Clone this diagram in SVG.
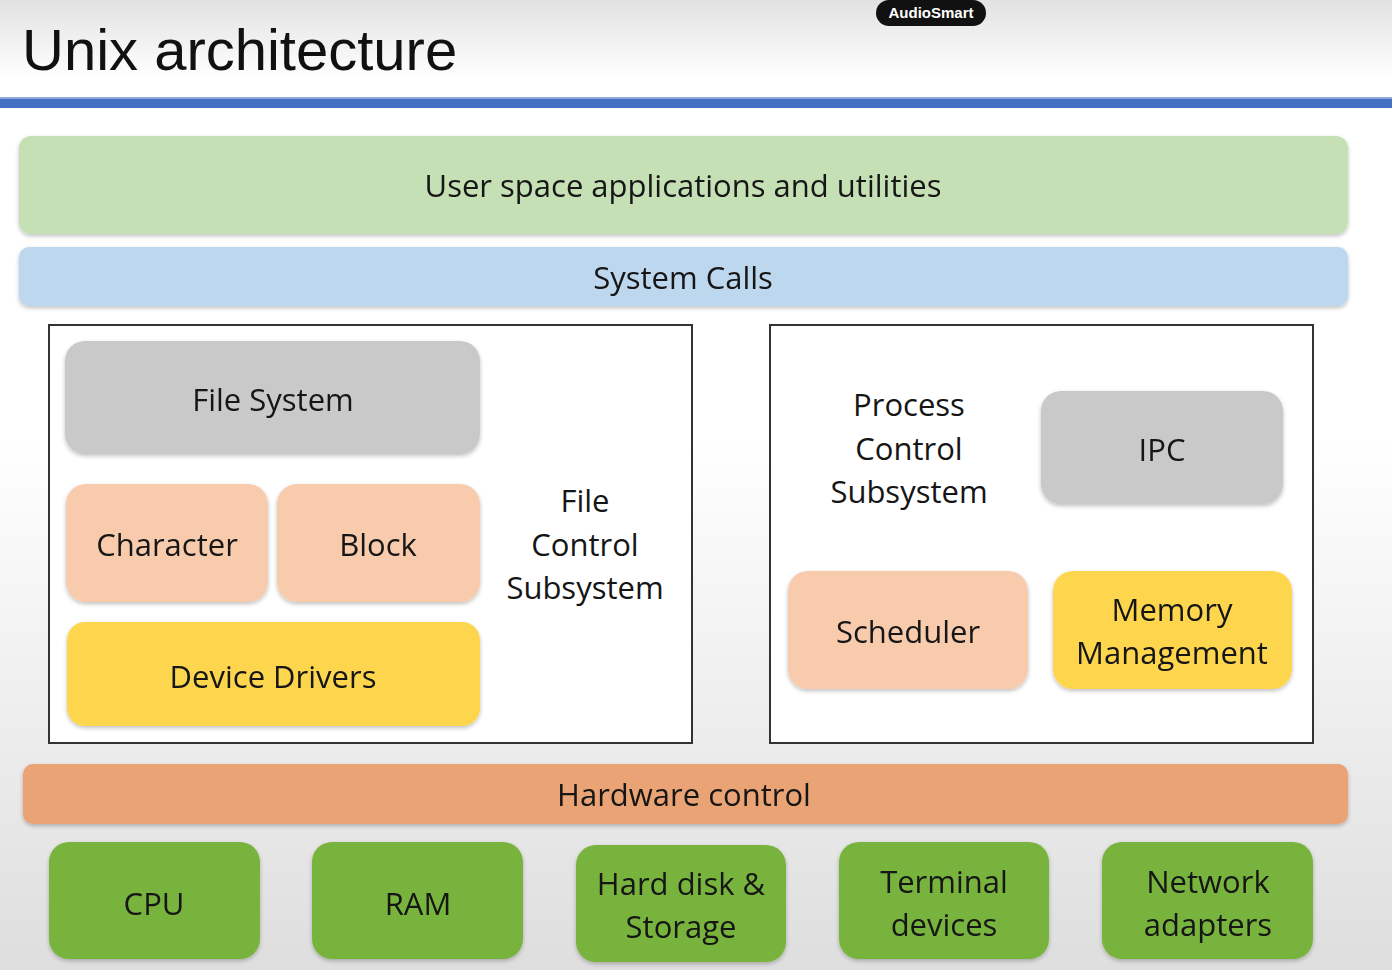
<svg xmlns="http://www.w3.org/2000/svg" width="1392" height="970" viewBox="0 0 1392 970">
<defs>
  <linearGradient id="bg" x1="0" y1="0" x2="0" y2="1">
    <stop offset="0" stop-color="#e2e2e2"/>
    <stop offset="0.08" stop-color="#ffffff"/>
    <stop offset="0.45" stop-color="#ffffff"/>
    <stop offset="1" stop-color="#dedede"/>
  </linearGradient>
  <filter id="sh" x="-5%" y="-10%" width="110%" height="125%">
    <feGaussianBlur in="SourceAlpha" stdDeviation="2"/>
    <feOffset dx="0" dy="2" result="b"/>
    <feComponentTransfer><feFuncA type="linear" slope="0.25"/></feComponentTransfer>
    <feMerge><feMergeNode/><feMergeNode in="SourceGraphic"/></feMerge>
  </filter>
</defs>
<style>
  text{font-family:"Open Sans","Noto Sans","Liberation Sans",sans-serif;fill:#151515;text-anchor:middle;font-size:31px;font-weight:500}
  .title{font-family:"Liberation Sans",Arial,sans-serif;font-size:58px;font-weight:400;text-anchor:start;fill:#111}
  .badge{font-family:"Liberation Sans",Arial,sans-serif;font-size:15px;font-weight:700;fill:#fff}
  .green{fill:#c5e0b4}
  .blue{fill:#bdd7ee}
  .gray{fill:#c9c9c9}
  .peach{fill:#f8cbad}
  .yellow{fill:#fdd64e}
  .orange{fill:#e9a374}
  .hw{fill:#78b43c}
  .frame{fill:#ffffff;stroke:#333;stroke-width:2}
</style>
<rect x="0" y="0" width="1392" height="970" fill="url(#bg)"/>
<g id="title">
  <text class="title" x="22" y="70">Unix architecture</text>
</g>
<g id="badge">
  <rect x="876" y="0" width="110" height="26" rx="13" fill="#111"/>
  <text class="badge" x="931" y="18">AudioSmart</text>
</g>
<rect x="0" y="98" width="1392" height="10" fill="#4571c4"/>
<rect x="0" y="97" width="1392" height="2" fill="#8fa9d8"/>

<g id="user-space" filter="url(#sh)">
  <rect class="green" x="19" y="136" width="1329" height="98" rx="12"/>
  <text x="683" y="197">User space applications and utilities</text>
</g>
<g id="system-calls" filter="url(#sh)">
  <rect class="blue" x="19" y="247" width="1329" height="59" rx="10"/>
  <text x="683" y="289">System Calls</text>
</g>

<g id="file-control-subsystem">
  <rect class="frame" x="49" y="325" width="643" height="418"/>
  <text x="585" y="512">File</text>
  <text x="585" y="556">Control</text>
  <text x="585" y="599">Subsystem</text>
</g>
<g id="file-system" filter="url(#sh)">
  <rect class="gray" x="65" y="341" width="415" height="113" rx="20"/>
  <text x="273" y="411">File System</text>
</g>
<g id="character" filter="url(#sh)">
  <rect class="peach" x="66" y="484" width="202" height="118" rx="20"/>
  <text x="167" y="556">Character</text>
</g>
<g id="block" filter="url(#sh)">
  <rect class="peach" x="277" y="484" width="203" height="118" rx="20"/>
  <text x="378" y="556">Block</text>
</g>
<g id="device-drivers" filter="url(#sh)">
  <rect class="yellow" x="67" y="622" width="413" height="104" rx="18"/>
  <text x="273" y="688">Device Drivers</text>
</g>

<g id="process-control-subsystem">
  <rect class="frame" x="770" y="325" width="543" height="418"/>
  <text x="909" y="416">Process</text>
  <text x="909" y="460">Control</text>
  <text x="909" y="503">Subsystem</text>
</g>
<g id="ipc" filter="url(#sh)">
  <rect class="gray" x="1041" y="391" width="242" height="113" rx="20"/>
  <text x="1162" y="461">IPC</text>
</g>
<g id="scheduler" filter="url(#sh)">
  <rect class="peach" x="788" y="571" width="240" height="118" rx="20"/>
  <text x="908" y="643">Scheduler</text>
</g>
<g id="memory-management" filter="url(#sh)">
  <rect class="yellow" x="1053" y="571" width="239" height="118" rx="20"/>
  <text x="1172" y="621">Memory</text>
  <text x="1172" y="664">Management</text>
</g>

<g id="hardware-control" filter="url(#sh)">
  <rect class="orange" x="23" y="764" width="1325" height="60" rx="10"/>
  <text x="684" y="806">Hardware control</text>
</g>

<g id="cpu" filter="url(#sh)">
  <rect class="hw" x="49" y="842" width="211" height="117" rx="20"/>
  <text x="154" y="915">CPU</text>
</g>
<g id="ram" filter="url(#sh)">
  <rect class="hw" x="312" y="842" width="211" height="117" rx="20"/>
  <text x="418" y="915">RAM</text>
</g>
<g id="hard-disk" filter="url(#sh)">
  <rect class="hw" x="576" y="845" width="210" height="117" rx="20"/>
  <text x="681" y="895">Hard disk &amp;</text>
  <text x="681" y="938">Storage</text>
</g>
<g id="terminal-devices" filter="url(#sh)">
  <rect class="hw" x="839" y="842" width="210" height="117" rx="20"/>
  <text x="944" y="893">Terminal</text>
  <text x="944" y="936">devices</text>
</g>
<g id="network-adapters" filter="url(#sh)">
  <rect class="hw" x="1102" y="842" width="211" height="117" rx="20"/>
  <text x="1208" y="893">Network</text>
  <text x="1208" y="936">adapters</text>
</g>
<g id="connectors"></g>
</svg>
